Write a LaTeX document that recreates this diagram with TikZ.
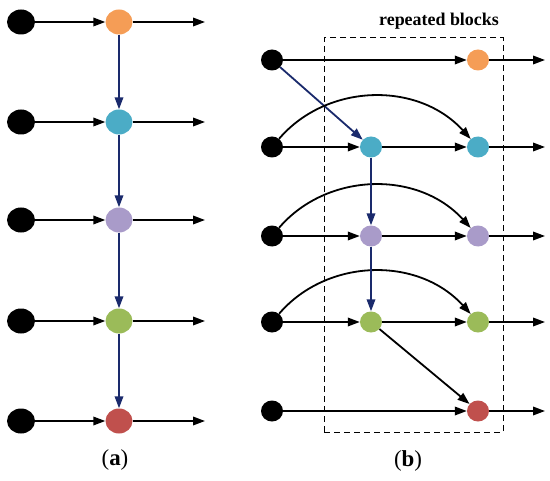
\documentclass[tikz,border=0pt]{standalone}
\usepackage{fontspec}
\setmainfont{Liberation Serif}
\usetikzlibrary{shapes.geometric,arrows.meta,calc}
\definecolor{corange}{HTML}{F59D56}
\definecolor{cblue}{HTML}{4BACC6}
\definecolor{cpurple}{HTML}{A99BC9}
\definecolor{cgreen}{HTML}{9BBB59}
\definecolor{cred}{HTML}{C0504D}
\definecolor{cnavy}{HTML}{1A2A6C}
\tikzset{
  bigdot/.style={ellipse, inner sep=0pt, minimum width=28bp, minimum height=25bp},
  smalldot/.style={ellipse, inner sep=0pt, minimum width=22bp, minimum height=21bp},
  arr/.style={draw=black, line width=1.8bp, -{Triangle[length=12bp,width=8.5bp]}},
  narr/.style={draw=cnavy, line width=1.8bp, -{Triangle[length=12bp,width=8.5bp]}},
  lbl/.style={font=\fontsize{23}{25}\selectfont},
}
\begin{document}
\begin{tikzpicture}[x=1bp,y=-1bp]
\useasboundingbox (0,0) rectangle (550,481);
% ---------- panel (a)
\foreach \i/\y/\c in {1/22/corange,2/122/cblue,3/220/cpurple,4/321/cgreen,5/421/cred}{
  \node[bigdot, fill=black] (ab\i) at (21,\y) {};
  \node[bigdot, fill=\c, minimum width=27bp] (ac\i) at (119,\y) {};
  \coordinate (ao\i) at (205,\y);
  \draw[arr] (ab\i) -- (ac\i);
  \draw[arr] (ac\i) -- (ao\i);
}
\foreach \i/\j in {1/2,2/3,3/4,4/5}{
  \draw[narr] (ac\i) -- (ac\j);
}
\node[lbl] (la) at (115,460) {(\textbf{a})};
% ---------- panel (b)
\node[draw, dashed, dash pattern=on 6bp off 4bp, line width=1bp, minimum width=179bp, minimum height=394bp, inner sep=0pt] (box) at (413.5,235) {};
\node[font=\fontsize{18}{20}\selectfont\bfseries] (rb) at (439,21) {repeated blocks};
\foreach \i/\y in {1/60,2/147,3/236,4/322,5/411}{
  \node[smalldot, fill=black] (bb\i) at (272,\y) {};
  \coordinate (bo\i) at (545,\y);
}
\node[smalldot, fill=corange] (br1) at (478,60) {};
\node[smalldot, fill=cblue] (bm2) at (371,147) {};
\node[smalldot, fill=cblue] (br2) at (478,147) {};
\node[smalldot, fill=cpurple] (bm3) at (371,236) {};
\node[smalldot, fill=cpurple] (br3) at (478,236) {};
\node[smalldot, fill=cgreen] (bm4) at (371,322) {};
\node[smalldot, fill=cgreen] (br4) at (478,322) {};
\node[smalldot, fill=cred] (br5) at (478,411) {};
% row 1
\draw[arr] (bb1) -- (br1);
\draw[arr] (br1) -- (bo1);
\draw[narr] (bb1) -- (bm2);
% rows 2-4
\foreach \i in {2,3,4}{
  \draw[arr] (bb\i) -- (bm\i);
  \draw[arr] (bm\i) -- (br\i);
  \draw[arr] (br\i) -- (bo\i);
  \draw[arr] (bb\i) .. controls ($(bb\i)+(55,-64)$) and ($(br\i)+(-60,-66)$) .. (br\i);
}
\draw[narr] (bm2) -- (bm3);
\draw[narr] (bm3) -- (bm4);
\draw[arr] (bm4) -- (br5);
% row 5
\draw[arr] (bb5) -- (br5);
\draw[arr] (br5) -- (bo5);
\node[lbl] (lb) at (408,461) {(\textbf{b})};
\end{tikzpicture}
\end{document}
